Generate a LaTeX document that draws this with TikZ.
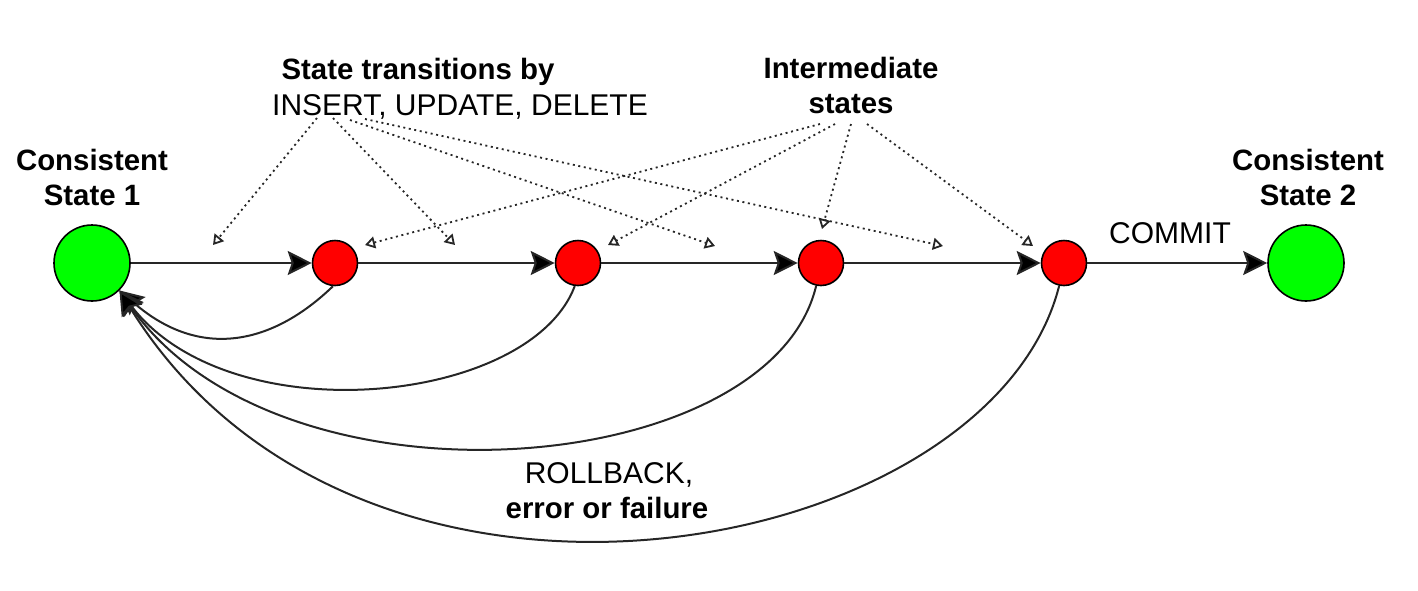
\documentclass[tikz,border=0pt]{standalone}
\usepackage{fontspec}
\setmainfont{Liberation Sans}
\usetikzlibrary{arrows.meta}
\definecolor{stategreen}{RGB}{0,255,0}
\definecolor{statered}{RGB}{255,0,0}
\begin{document}
\begin{tikzpicture}[x=0.5pt,y=-0.5pt,
  state/.style={circle,draw=black,line width=0.8pt,inner sep=0pt},
  cons/.style={state,fill=stategreen,minimum size=38pt},
  mid/.style={state,fill=statered,minimum size=22.5pt},
  lbl/.style={anchor=base,inner sep=0pt,font=\fontsize{15}{18}\selectfont},
  blbl/.style={anchor=base,inner sep=0pt,font=\fontsize{14.7}{18}\selectfont\bfseries},
  flow/.style={line width=1pt,draw=black!85,-{Stealth[length=12pt,width=12pt,inset=2pt,fill=black]}},
  hint/.style={line width=0.9pt,draw=black!85,dash pattern=on 1pt off 1.8pt,-{Triangle[open,length=5pt,width=6pt]}}
]
\useasboundingbox (0,0) rectangle (1418,590);

% states
\node[cons] (g1) at (92,263) {};
\node[mid] (r1) at (335,263) {};
\node[mid] (r2) at (578,263) {};
\node[mid] (r3) at (821,263) {};
\node[mid] (r4) at (1064,263) {};
\node[cons] (g2) at (1306,263) {};

% labels
\node[blbl] (c1a) at (92,170) {Consistent};
\node[blbl] (c1b) at (92,205) {State 1};
\node[blbl] (c2a) at (1308,170) {Consistent};
\node[blbl] (c2b) at (1308,205) {State 2};
\node[blbl] (st) at (418,79) {State transitions by};
\node[lbl] (ops) at (460,115) {INSERT, UPDATE, DELETE};
\node[blbl] (im) at (851,78) {Intermediate};
\node[blbl] (ims) at (851,113) {states};
\node[lbl] (commit) at (1170,243) {COMMIT};
\node[lbl] (rbA) at (609,483) {ROLLBACK,};
\node[blbl] (rbB) at (607,518) {error or failure};

% forward transitions
\draw[flow] (g1) -- (r1);
\draw[flow] (r1) -- (r2);
\draw[flow] (r2) -- (r3);
\draw[flow] (r3) -- (r4);
\draw[flow] (r4) -- (g2);

% rollback arcs
\draw[flow] (r1.265) .. controls (272,345) and (200,360) .. (g1.-45);
\draw[flow] (r2.262) .. controls (530,405) and (230,435) .. (g1.-45);
\draw[flow] (r3.258) .. controls (770,480) and (280,520) .. (g1.-45);
\draw[flow] (r4.258) .. controls (990,560) and (360,680) .. (g1.-45);

% dotted pointers
\coordinate (s1) at (317,118);
\coordinate (s2) at (333,118);
\coordinate (s3) at (350,120);
\coordinate (s4) at (365,119);
\coordinate (i1) at (820,124);
\coordinate (i2) at (835,124);
\coordinate (i3) at (851,124);
\coordinate (i4) at (867,124);
\coordinate (t1) at (213,245);
\coordinate (t2) at (455,245);
\coordinate (t3) at (715,246);
\coordinate (t4) at (943,246);
\coordinate (u1) at (365,245);
\coordinate (u2) at (608,245);
\coordinate (u3) at (822,229);
\coordinate (u4) at (1033,246);
\draw[hint] (s1) -- (t1);
\draw[hint] (s2) -- (t2);
\draw[hint] (s3) -- (t3);
\draw[hint] (s4) -- (t4);
\draw[hint] (i1) -- (u1);
\draw[hint] (i2) -- (u2);
\draw[hint] (i3) -- (u3);
\draw[hint] (i4) -- (u4);
\end{tikzpicture}
\end{document}
